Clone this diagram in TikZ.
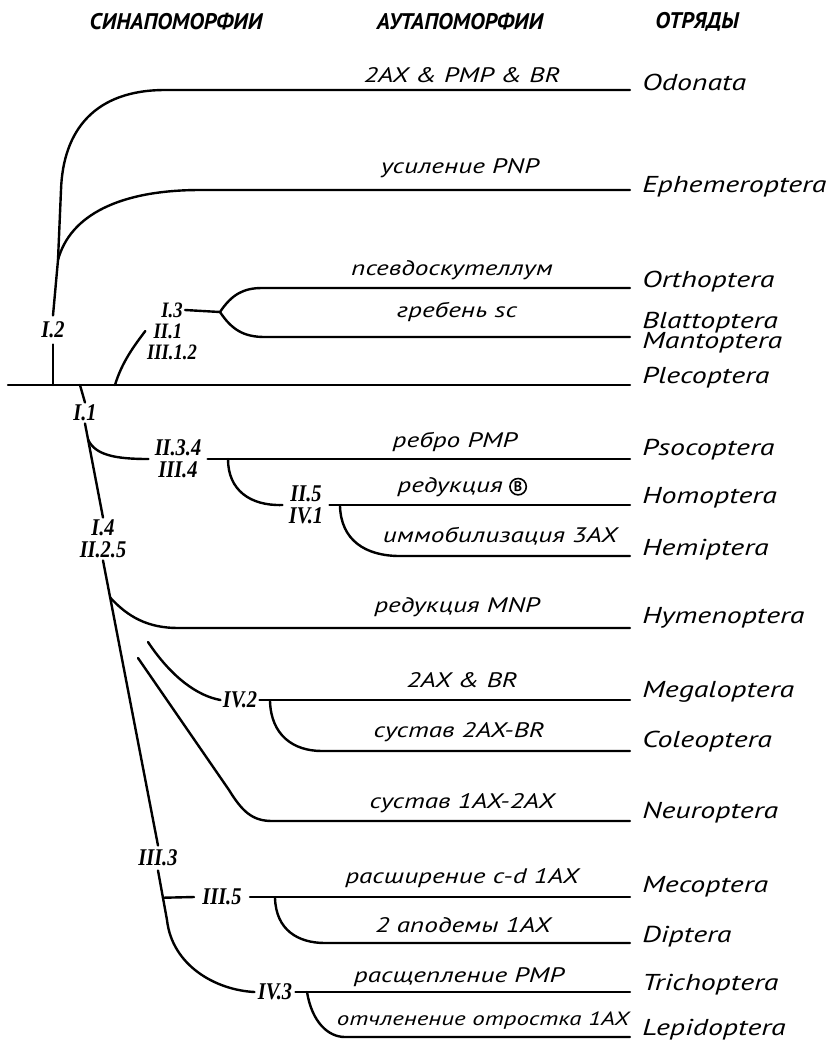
\documentclass[tikz,border=0pt]{standalone}
\usepackage{fontspec}
\setmainfont{PT Sans}
\newfontfamily\handfont{PT Sans}[FakeStretch=1.3]
\newfontfamily\romfont{Liberation Serif}[FakeStretch=0.85]
\usetikzlibrary{calc}

\tikzset{
    branch/.style={line width=1.2pt, line cap=round},
    taxon/.style={anchor=base west, inner xsep=6pt, inner ysep=0pt,
        font=\handfont\itshape\fontsize{11.5}{11}\selectfont},
    trait/.style={anchor=base, inner sep=0pt,
        font=\handfont\itshape\fontsize{10.5}{11}\selectfont},
    synapo/.style={inner xsep=3pt, inner ysep=1pt, align=center,
        font=\romfont\bfseries\itshape\fontsize{12}{11}\selectfont},
    smallapo/.style={synapo, inner ysep=0pt,
        font=\romfont\bfseries\itshape\fontsize{11}{11}\selectfont},
    colhead/.style={font=\bfseries\itshape\fontsize{11.3}{12}\selectfont},
    circB/.style={circle, draw, line width=0.8pt, inner sep=0.6pt,
        font=\bfseries\fontsize{7}{7}\selectfont}
}

\begin{document}
\begin{tikzpicture}[x=0.5pt, y=-0.5pt]
    \useasboundingbox (0,0) rectangle (838,1041);

    \coordinate (root) at (8,385);
    \coordinate (foot2) at (53,385);
    \coordinate (eph0) at (58,260);
    \coordinate (odo0) at (61,190);
    \coordinate (odo1) at (165,90);
    \coordinate (eph1) at (200,190);
    \coordinate (tick1) at (80,385);
    \coordinate (ple0) at (115,385);
    \coordinate (fork) at (220,312);
    \coordinate (ort0) at (262,288);
    \coordinate (bla0) at (265,337);
    \coordinate (hom0) at (228,459);
    \coordinate (hem0) at (340,506);
    \coordinate (hem1) at (400,556);
    \coordinate (meg0) at (148,642);
    \coordinate (col0) at (270,701);
    \coordinate (col1) at (322,751);
    \coordinate (neu0) at (138,658);
    \coordinate (neu1) at (229,790);
    \coordinate (neu2) at (272,821);
    \coordinate (low0) at (167,920);
    \coordinate (dip0) at (275,898);
    \coordinate (dip1) at (325,943);
    \coordinate (lep0) at (307,992);
    \coordinate (lep1) at (345,1037);

    % column heads
    \node[colhead] (hSyn) at (176,22) {СИНАПОМОРФИИ};
    \node[colhead] (hAut) at (460,22) {АУТАПОМОРФИИ};
    \node[colhead] (hOrd) at (697,22) {ОТРЯДЫ};

    % orders
    \node[taxon] (Odo) at (630,90) {Odonata};
    \node[taxon] (Eph) at (630,192) {Ephemeroptera};
    \node[taxon] (Ort) at (630,287) {Orthoptera};
    \node[taxon] (Bla) at (630,328) {Blattoptera};
    \node[taxon] (Man) at (630,348) {Mantoptera};
    \node[taxon] (Ple) at (630,383) {Plecoptera};
    \node[taxon] (Pso) at (630,455) {Psocoptera};
    \node[taxon] (Hom) at (630,503) {Homoptera};
    \node[taxon] (Hem) at (630,555) {Hemiptera};
    \node[taxon] (Hym) at (630,623) {Hymenoptera};
    \node[taxon] (Meg) at (630,697) {Megaloptera};
    \node[taxon] (Col) at (630,747) {Coleoptera};
    \node[taxon] (Neu) at (630,818) {Neuroptera};
    \node[taxon] (Mec) at (630,892) {Mecoptera};
    \node[taxon] (Dip) at (630,942) {Diptera};
    \node[taxon] (Tri) at (630,990) {Trichoptera};
    \node[taxon] (Lep) at (630,1035) {Lepidoptera};

    % synapomorphies
    \node[synapo, inner ysep=3pt] (I2) at (53,330) {I.2};
    \node[synapo] (I1) at (85,413) {I.1};
    \node[smallapo, inner xsep=1pt] (I3) at (172,310) {I.3};
    \node[smallapo, inner xsep=4pt] (II1) at (168,331) {II.1};
    \node[smallapo] (III12) at (172,352) {III.1.2};
    \node[synapo] (L34) at (178,459) {II.3.4\\III.4};
    \node[synapo] (L5) at (306,505) {II.5\\IV.1};
    \node[synapo] (L4) at (103,539) {I.4\\II.2.5};
    \node[synapo, inner xsep=1pt] (IV2) at (240,700) {IV.2};
    \node[synapo, inner ysep=2pt] (L33) at (158,858) {III.3};
    \node[synapo, inner xsep=4pt] (L35) at (222,897) {III.5};
    \node[synapo, inner xsep=1.5pt] (IV3) at (275,992) {IV.3};

    \coordinate (pso0) at ($(I1.south)!0.17!(L4.north)$);
    \coordinate (hym0) at ($(L4.south)!0.13!(L33.north)$);
    \coordinate (mec0) at ($(L33.south)!0.55!(low0)$);
    \coordinate (hym1) at (178,628);

    \begin{scope}[branch]
        \draw (root) -- (root -| Ple.west);
        \draw (foot2) -- (I2.south);
        \draw (I2.north) -- (eph0) -- (odo0)
            .. controls (63,130) and (95,90) .. (odo1) -- (odo1 -| Odo.west);
        \draw (eph0) .. controls (70,215) and (120,190) .. (eph1)
            -- (eph1 -| Eph.west);
        \draw (ple0) .. controls (122,362) and (134,346) .. (II1.west);
        \draw (I3.east) -- (fork);
        \draw (fork) .. controls (232,294) and (244,288) .. (ort0)
            -- (ort0 -| Ort.west);
        \draw (fork) .. controls (232,330) and (244,337) .. (bla0)
            -- (bla0 -| Bla.west);

        \draw (tick1) -- (I1.north);
        \draw (I1.south) -- (L4.north);
        \draw (pso0) .. controls (95,455) and (115,459) .. (L34.west);
        \draw (L34.east) -- (L34.east -| Pso.west);
        \draw (hom0) .. controls (228,490) and (250,506) .. (L5.west);
        \draw (L5.east) -- (L5.east -| Hom.west);
        \draw (hem0) .. controls (341,540) and (365,556) .. (hem1)
            -- (hem1 -| Hem.west);

        \draw (L4.south) -- (L33.north);
        \draw (hym0) .. controls (128,617) and (148,628) .. (hym1)
            -- (hym1 -| Hym.west);
        \draw (meg0) .. controls (172,678) and (198,696) .. (IV2.west);
        \draw (IV2.east) -- (IV2.east -| Meg.west);
        \draw (col0) .. controls (271,735) and (293,751) .. (col1)
            -- (col1 -| Col.west);
        \draw (neu0) -- (neu1) .. controls (242,811) and (252,821) .. (neu2)
            -- (neu2 -| Neu.west);

        \draw (L33.south) -- (low0)
            .. controls (172,965) and (215,990) .. (IV3.west);
        \draw (mec0) -- (L35.west);
        \draw (L35.east) -- (L35.east -| Mec.west);
        \draw (dip0) .. controls (276,930) and (298,943) .. (dip1)
            -- (dip1 -| Dip.west);
        \draw (IV3.east) -- (IV3.east -| Tri.west);
        \draw (lep0) .. controls (312,1022) and (328,1037) .. (lep1)
            -- (lep1 -| Lep.west);
    \end{scope}

    % autapomorphies
    \node[trait] (odoT) at (462,82) {2AX \& PMP \& BR};
    \node[trait] (ephT) at (460,173) {усиление PNP};
    \node[trait] (ortT) at (452,275) {псевдоскутеллум};
    \node[trait] (blaT) at (457,317) {гребень sc};
    \node[trait] (psoT) at (455,447) {ребро PMP};
    \node[trait, anchor=base west] (homT) at (397,492) {редукция};
    \node[circB, anchor=west] (homB) at ([xshift=3pt]homT.east) {B};
    \node[trait] (hemT) at (500,542) {иммобилизация 3AX};
    \node[trait] (hymT) at (457,612) {редукция MNP};
    \node[trait] (megT) at (462,687) {2AX \& BR};
    \node[trait] (colT) at (459,737) {сустав 2AX-BR};
    \node[trait] (neuT) at (462,808) {сустав 1AX-2AX};
    \node[trait] (mecT) at (462,883) {расширение c-d 1AX};
    \node[trait] (dipT) at (463,932) {2 аподемы 1AX};
    \node[trait] (triT) at (459,982) {расщепление PMP};
    \node[trait, font=\handfont\itshape\fontsize{9.6}{11}\selectfont]
        (lepT) at (483,1025) {отчленение отростка 1AX};
\end{tikzpicture}
\end{document}
